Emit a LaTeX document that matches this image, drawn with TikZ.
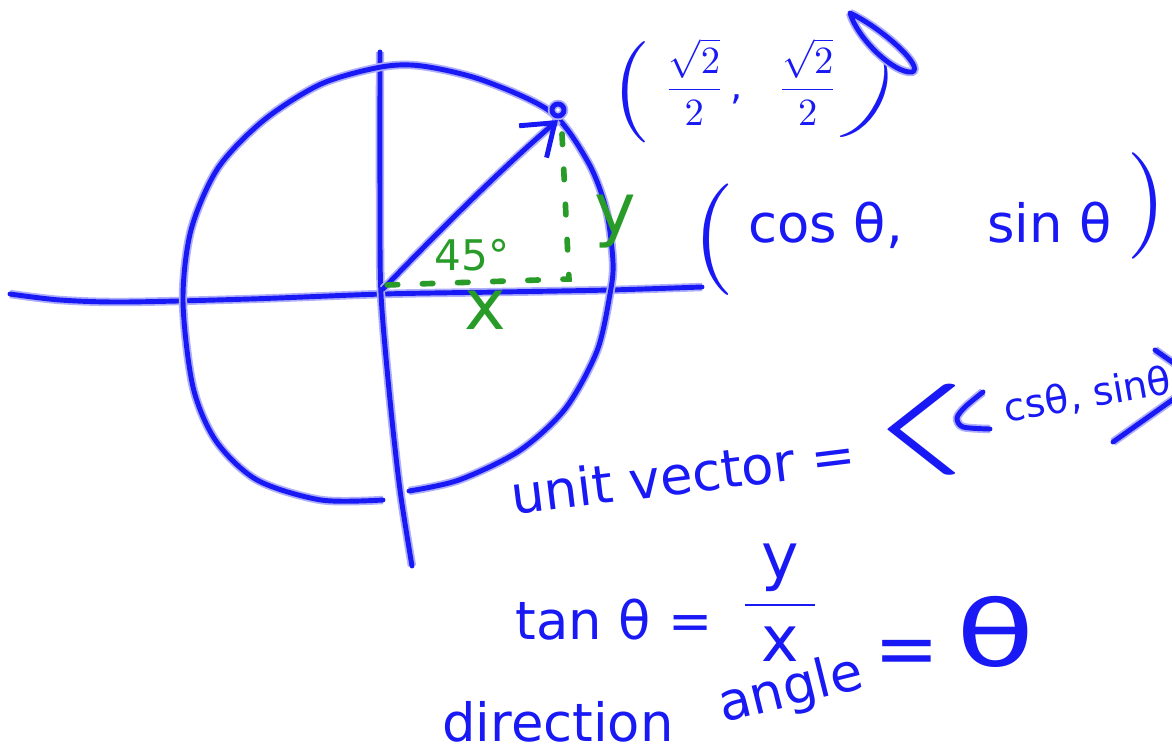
\documentclass[tikz,border=0pt]{standalone}
\usepackage{amsmath}
\usepackage{fontspec}
\setmainfont{DejaVu Sans}
\usepackage{graphicx}
\usetikzlibrary{arrows.meta}
\definecolor{penblue}{RGB}{25,25,245}
\definecolor{pengreen}{RGB}{40,155,40}
\tikzset{
  ink/.style={draw=penblue, line width=1.4pt, line cap=round, line join=round,
    preaction={draw=penblue!35, line width=2.4pt, arrows=-}},
  guide/.style={draw=pengreen, line width=1.6pt, line cap=round, dash pattern=on 3pt off 7pt},
  note/.style={text=penblue, inner sep=0pt, font=\fontsize{15}{18}\selectfont},
  gnote/.style={text=pengreen, inner sep=0pt, font=\fontsize{15}{18}\selectfont}
}
\begin{document}
\begin{tikzpicture}[x=0.01cm, y=-0.01cm]
            \clip (0,0) rectangle (1172,751);
            \fill[white] (0,0) rectangle (1172,751);
            \coordinate (O) at (383,289);
            \coordinate (P) at (558,120);
            \coordinate (F) at (569,279);
            \coordinate (G) at (386,285);
            \coordinate (H) at (562,134);
            % axes and circle
            \draw[ink] plot[smooth] coordinates {(10,294) (60,300) (124,302) (250,299) (383,294) (500,292) (610,290) (702,287)};
            \draw[ink] plot[smooth] coordinates {(380,52) (380,200) (381,294) (390,400) (400,490) (412,566)};
            \draw[ink] plot[smooth] coordinates {(383,500) (321,500) (257,480) (216,441) (193,387) (183,301) (191,230) (218,168) (264,120) (321,84) (381,67) (422,66) (482,80) (551,112) (588,162) (606,209) (613,262) (610,294) (597,351) (565,409) (519,451) (459,480) (409,491)};
            % unit vector
            \draw[ink, -{Straight Barb[length=2.9mm, width=4.2mm]}] (O) .. controls (440,230) and (500,170) .. (P);
            \draw[ink] (P) ++(0,-10) circle[radius=6];
            \draw[guide] (H) -- (F) -- (G);
            \node[gnote, font=\fontsize{12}{14}\selectfont] (anglab) at (472,255) {45°};
            \node[gnote, font=\fontsize{20}{22}\selectfont] (xlab) at (485,310) {x};
            \node[gnote, font=\fontsize{20}{22}\selectfont] (ylab) at (615,222) {y};
            % coordinates of the point
            \node[note] (lpA) at (632,92) {\scalebox{2.0}{$($}};
            \node[note, font=\fontsize{11}{13}\selectfont] (sqrtpair) at (751,82) {$\dfrac{\sqrt{2}}{2}$\,,\hspace{0.9em}$\dfrac{\sqrt{2}}{2}$};
            \node[note, rotate=-28] (rpA) at (873,103) {\scalebox{1.8}{$)$}};
            \draw[ink] (850,13) .. controls (885,30) and (925,68) .. (912,72) .. controls (895,74) and (858,40) .. (850,13);
            \node[note] (lpB) at (714,240) {\scalebox{2.2}{$($}};
            \node[note] (cossin) at (930,225) {cos θ,\hspace{1.6em}sin θ};
            \node[note] (rpB) at (1147,206) {\scalebox{2.1}{$)$}};
            % unit vector in components
            \node[note, rotate=7] (unitvec) at (683,474) {unit vector =};
            \node[note] (lang) at (914,430) {\scalebox{6}[1.8]{$\langle$}};
            \draw[ink] plot[smooth] coordinates {(983,392) (965,407) (957,418) (963,427) (990,429)};
            \node[note, font=\fontsize{11}{13}\selectfont, rotate=10, anchor=west] (cossinb) at (1004,410) {csθ, sinθ};
            \draw[ink] (1113,442) -- (1175,398);
            \draw[ink] (1155,350) -- (1175,364);
            % tangent and direction angle
            \node[note] (tanlhs) at (614,620) {tan θ =};
            \node[note, font=\fontsize{18}{20}\selectfont] (yx) at (780,603) {$\dfrac{\mbox{\hspace{0.25em}y\hspace{0.25em}}}{\mbox{x}}$};
            \node[note] (dirword) at (558,722) {direction};
            \node[note, rotate=14] (angleword) at (791,691) {angle};
            \node[note, font=\fontsize{22}{24}\selectfont] (angeq) at (907,658) {=};
            \node[note, font=\fontsize{26}{28}\selectfont] (dirtheta) at (996,632) {\scalebox{1.4}[1]{θ}};
\end{tikzpicture}
\end{document}
